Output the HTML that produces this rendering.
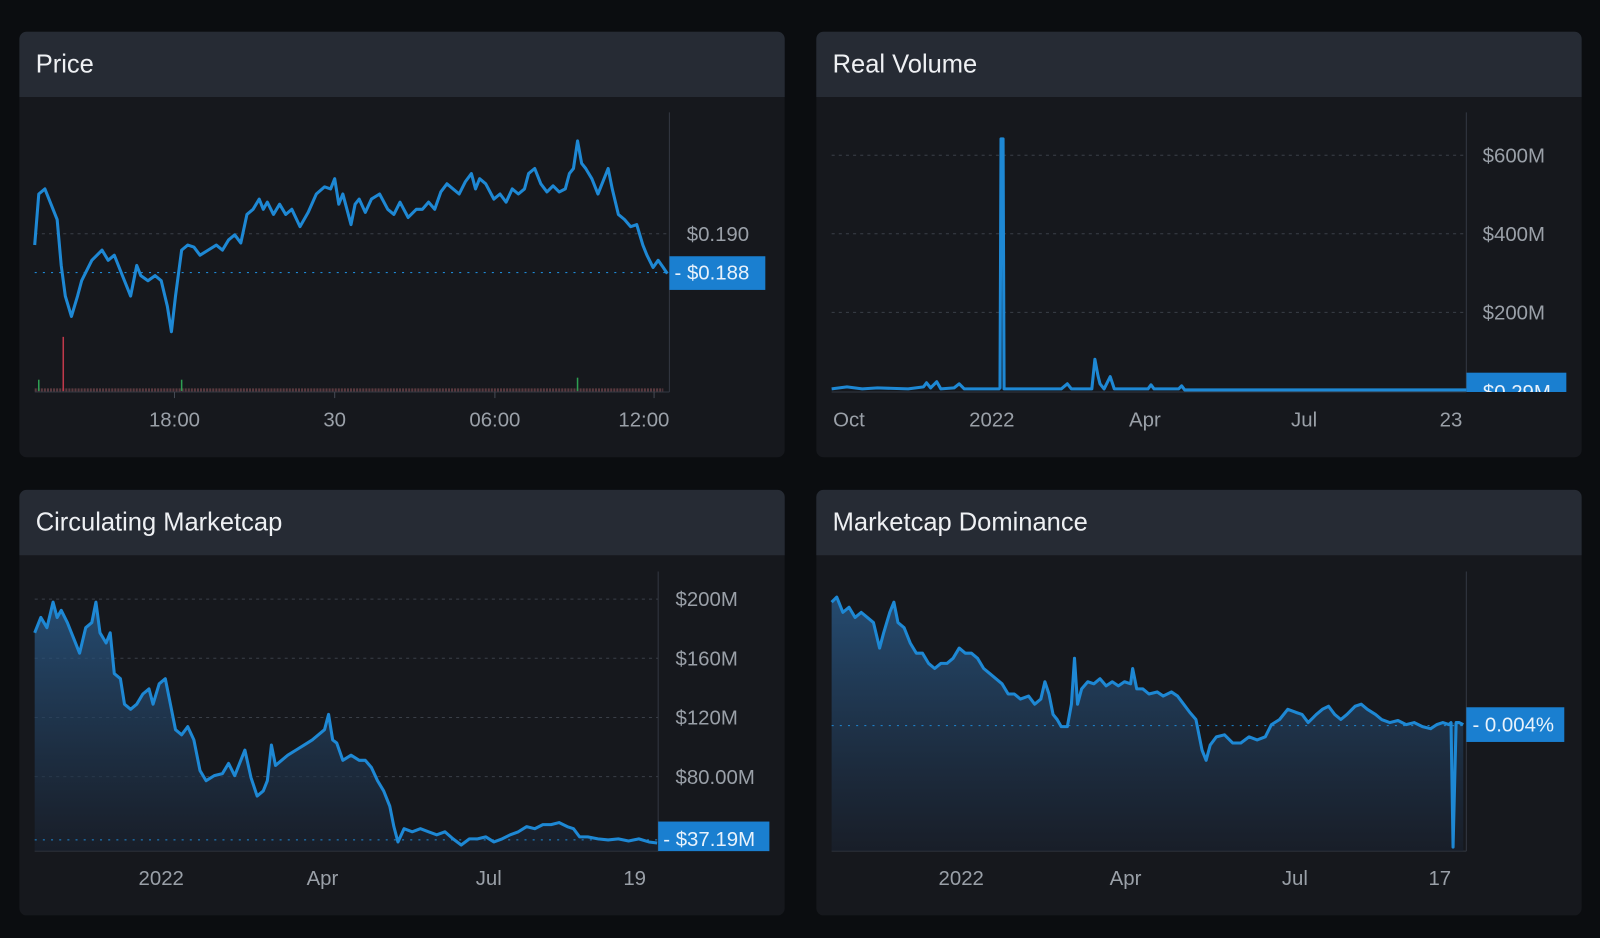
<!DOCTYPE html>
<html><head><meta charset="utf-8"><style>
html,body{margin:0;padding:0;background:#0b0d10;width:1600px;height:938px;overflow:hidden;font-family:"Liberation Sans","DejaVu Sans",sans-serif}
svg{position:absolute;left:0;top:0}
</style></head><body>
<svg width="1600" height="938" viewBox="0 0 1568 919" xmlns="http://www.w3.org/2000/svg">
<defs>
<linearGradient id="g" x1="0" y1="0" x2="0" y2="1"><stop offset="0" stop-color="#2a5c8c" stop-opacity="0.75"/><stop offset="1" stop-color="#1a2230" stop-opacity="0.6"/></linearGradient>
</defs>
<g font-family="Liberation Sans, DejaVu Sans, sans-serif">
<rect x="19" y="31" width="750" height="417" rx="7" fill="#16181d"/>
<path d="M19 95V38a7 7 0 0 1 7-7h736a7 7 0 0 1 7 7v57z" fill="#262b34"/>
<rect x="800" y="31" width="750" height="417" rx="7" fill="#16181d"/>
<path d="M800 95V38a7 7 0 0 1 7-7h736a7 7 0 0 1 7 7v57z" fill="#262b34"/>
<rect x="19" y="480" width="750" height="417" rx="7" fill="#16181d"/>
<path d="M19 544V487a7 7 0 0 1 7-7h736a7 7 0 0 1 7 7v57z" fill="#262b34"/>
<rect x="800" y="480" width="750" height="417" rx="7" fill="#16181d"/>
<path d="M800 544V487a7 7 0 0 1 7-7h736a7 7 0 0 1 7 7v57z" fill="#262b34"/>
<g fill="#eef0f3" font-size="25">
<text x="35" y="71">Price</text><text x="816" y="71">Real Volume</text>
<text x="35" y="520">Circulating Marketcap</text><text x="816" y="520">Marketcap Dominance</text>
</g>

<!-- Price -->
<line x1="656" y1="110" x2="656" y2="384" stroke="#333842"/>
<line x1="34" y1="384" x2="656" y2="384" stroke="#333842"/>
<g stroke="#444a54"><line x1="171" y1="384" x2="171" y2="390"/><line x1="328" y1="384" x2="328" y2="390"/><line x1="485" y1="384" x2="485" y2="390"/><line x1="641" y1="384" x2="641" y2="390"/></g>
<line x1="34" y1="229" x2="656" y2="229" stroke="#3a3f48" stroke-dasharray="3,4"/>
<line x1="34" y1="267" x2="656" y2="267" stroke="#1e88d4" stroke-dasharray="2,6"/>
<line x1="34" y1="382" x2="650" y2="382" stroke="#5a3a40" stroke-width="3" stroke-dasharray="2,1"/>
<line x1="62" y1="330" x2="62" y2="383" stroke="#c0394a" stroke-width="1.5"/>
<line x1="38" y1="372" x2="38" y2="383" stroke="#2e9e52" stroke-width="1.5"/>
<line x1="178" y1="372" x2="178" y2="383" stroke="#2e9e52" stroke-width="1.5"/>
<line x1="566" y1="370" x2="566" y2="383" stroke="#2e9e52" stroke-width="1.5"/>
<polyline fill="none" stroke="#1e88d4" stroke-width="3" stroke-linejoin="round" points="34,240 38,190 44,185 50,200 56,215 60,260 64,290 70,310 76,290 80,275 90,255 100,245 106,255 112,250 120,270 128,290 134,260 138,270 145,275 152,270 158,275 164,300 168,325 172,290 178,245 184,240 190,242 196,250 204,245 212,240 218,245 224,235 230,230 236,238 242,210 248,205 254,195 258,205 262,198 268,210 274,200 280,210 286,205 294,222 302,208 310,190 318,183 324,185 328,175 332,200 336,190 340,205 344,220 348,200 352,195 358,208 364,195 372,190 380,205 386,210 392,198 400,213 408,205 414,205 420,198 426,205 432,188 438,180 444,185 450,190 456,178 462,170 466,185 470,175 476,180 484,195 490,190 496,198 502,185 508,190 514,185 518,170 524,165 530,180 536,188 542,182 548,188 554,185 558,170 562,165 566,138 570,160 574,165 580,175 586,190 592,175 596,165 600,185 606,210 612,215 618,222 624,220 630,240 634,250 640,262 645,255 650,262 654,268"/>
<g fill="#9aa0a8" font-size="20">
<text x="673" y="236">$0.190</text>
<text x="171" y="418" text-anchor="middle">18:00</text><text x="328" y="418" text-anchor="middle">30</text>
<text x="485" y="418" text-anchor="middle">06:00</text><text x="631" y="418" text-anchor="middle">12:00</text>
</g>
<rect x="656" y="251" width="94" height="33" fill="#1a7fd0"/>
<text x="661" y="274" fill="#e8f2fb" font-size="20">- $0.188</text>

<!-- Real Volume -->
<line x1="1437" y1="110" x2="1437" y2="384" stroke="#333842"/>
<line x1="815" y1="384" x2="1437" y2="384" stroke="#333842"/>
<g stroke="#3a3f48" stroke-dasharray="3,4"><line x1="815" y1="152" x2="1437" y2="152"/><line x1="815" y1="229" x2="1437" y2="229"/><line x1="815" y1="306" x2="1437" y2="306"/></g>
<polyline fill="none" stroke="#1e88d4" stroke-width="3" stroke-linejoin="round" points="815,381 830,379 845,381 860,380 890,381 905,379 908,375 912,380 918,374 922,381 935,380 940,376 945,381 979,381 980,380 981,136 983,136 984,381 1040,381 1046,376 1050,381 1070,381 1073,352 1076,368 1078,376 1082,381 1088,369 1092,381 1125,381 1128,377 1131,381 1155,381 1158,378 1161,382 1437,382"/>
<g fill="#9aa0a8" font-size="20">
<text x="1453" y="159">$600M</text><text x="1453" y="236">$400M</text><text x="1453" y="313">$200M</text>
<text x="832" y="418" text-anchor="middle">Oct</text><text x="972" y="418" text-anchor="middle">2022</text>
<text x="1122" y="418" text-anchor="middle">Apr</text><text x="1278" y="418" text-anchor="middle">Jul</text><text x="1422" y="418" text-anchor="middle">23</text>
</g>
<svg x="1437" y="365" width="100" height="19"><rect width="98" height="40" fill="#1a7fd0"/><text x="4" y="26" fill="#e8f2fb" font-size="20">- $0.29M</text></svg>

<!-- Circulating Marketcap -->
<line x1="645" y1="560" x2="645" y2="834" stroke="#333842"/>
<line x1="34" y1="834" x2="645" y2="834" stroke="#333842"/>
<g stroke="#3a3f48" stroke-dasharray="3,4"><line x1="34" y1="587" x2="645" y2="587"/><line x1="34" y1="645" x2="645" y2="645"/><line x1="34" y1="703" x2="645" y2="703"/><line x1="34" y1="761" x2="645" y2="761"/></g>
<polygon fill="url(#g)" points="34,834 34,620 40,605 46,615 52,590 56,605 60,598 66,610 72,625 78,640 84,615 90,610 94,590 98,620 104,630 108,620 112,660 118,665 122,690 128,695 134,690 140,680 146,675 150,690 156,670 162,665 166,685 172,715 178,720 184,712 190,725 196,755 202,765 210,760 218,758 224,748 230,760 236,745 240,735 246,762 252,780 258,775 262,765 266,730 270,750 276,745 282,740 290,735 298,730 306,725 312,720 318,715 322,700 326,725 330,728 336,745 344,740 352,745 358,745 364,752 370,765 376,775 382,790 386,810 390,825 396,812 404,815 412,812 420,815 428,818 436,815 444,822 452,828 460,822 468,822 476,820 484,825 492,822 500,818 508,815 516,810 524,812 532,808 540,808 548,806 556,810 562,812 568,820 576,820 586,822 596,823 606,822 616,824 626,822 636,825 644,826 644,834"/>
<line x1="34" y1="823" x2="645" y2="823" stroke="#1e88d4" stroke-dasharray="2,6"/>
<polyline fill="none" stroke="#1e88d4" stroke-width="3" stroke-linejoin="round" points="34,620 40,605 46,615 52,590 56,605 60,598 66,610 72,625 78,640 84,615 90,610 94,590 98,620 104,630 108,620 112,660 118,665 122,690 128,695 134,690 140,680 146,675 150,690 156,670 162,665 166,685 172,715 178,720 184,712 190,725 196,755 202,765 210,760 218,758 224,748 230,760 236,745 240,735 246,762 252,780 258,775 262,765 266,730 270,750 276,745 282,740 290,735 298,730 306,725 312,720 318,715 322,700 326,725 330,728 336,745 344,740 352,745 358,745 364,752 370,765 376,775 382,790 386,810 390,825 396,812 404,815 412,812 420,815 428,818 436,815 444,822 452,828 460,822 468,822 476,820 484,825 492,822 500,818 508,815 516,810 524,812 532,808 540,808 548,806 556,810 562,812 568,820 576,820 586,822 596,823 606,822 616,824 626,822 636,825 644,826"/>
<g fill="#9aa0a8" font-size="20">
<text x="662" y="594">$200M</text><text x="662" y="652">$160M</text><text x="662" y="710">$120M</text><text x="662" y="768">$80.00M</text>
<text x="158" y="867" text-anchor="middle">2022</text><text x="316" y="867" text-anchor="middle">Apr</text>
<text x="479" y="867" text-anchor="middle">Jul</text><text x="622" y="867" text-anchor="middle">19</text>
</g>
<rect x="645" y="805" width="109" height="29" fill="#1a7fd0"/>
<text x="650" y="829" fill="#e8f2fb" font-size="20">- $37.19M</text>

<!-- Dominance -->
<line x1="1437" y1="560" x2="1437" y2="834" stroke="#333842"/>
<line x1="815" y1="834" x2="1437" y2="834" stroke="#333842"/>
<polygon fill="url(#g)" points="815,834 815,590 820,585 826,600 832,595 838,605 844,600 850,605 856,610 862,635 866,620 872,600 876,590 880,610 886,615 892,630 898,640 904,640 910,650 916,655 922,650 928,650 934,645 940,635 946,640 952,640 958,645 964,655 970,660 976,665 982,670 988,680 994,680 1000,685 1008,682 1014,690 1020,685 1024,668 1028,680 1032,700 1036,705 1040,712 1046,712 1050,690 1053,645 1056,690 1060,675 1066,668 1072,670 1078,665 1084,672 1090,668 1096,672 1102,668 1108,670 1110,655 1114,675 1120,675 1126,680 1134,678 1140,682 1148,678 1154,682 1160,690 1166,698 1172,705 1178,735 1182,745 1186,730 1192,722 1200,720 1208,728 1216,728 1224,722 1232,725 1240,722 1246,710 1254,705 1262,695 1270,698 1276,700 1282,708 1290,700 1296,695 1302,692 1308,700 1314,705 1320,700 1328,692 1334,690 1340,695 1348,700 1354,705 1362,708 1370,706 1378,710 1386,708 1394,712 1402,714 1408,710 1414,708 1420,710 1422,708 1434,710 1434,834"/>
<line x1="815" y1="711" x2="1437" y2="711" stroke="#1e88d4" stroke-dasharray="2,6"/>
<polyline fill="none" stroke="#1e88d4" stroke-width="3" stroke-linejoin="round" points="815,590 820,585 826,600 832,595 838,605 844,600 850,605 856,610 862,635 866,620 872,600 876,590 880,610 886,615 892,630 898,640 904,640 910,650 916,655 922,650 928,650 934,645 940,635 946,640 952,640 958,645 964,655 970,660 976,665 982,670 988,680 994,680 1000,685 1008,682 1014,690 1020,685 1024,668 1028,680 1032,700 1036,705 1040,712 1046,712 1050,690 1053,645 1056,690 1060,675 1066,668 1072,670 1078,665 1084,672 1090,668 1096,672 1102,668 1108,670 1110,655 1114,675 1120,675 1126,680 1134,678 1140,682 1148,678 1154,682 1160,690 1166,698 1172,705 1178,735 1182,745 1186,730 1192,722 1200,720 1208,728 1216,728 1224,722 1232,725 1240,722 1246,710 1254,705 1262,695 1270,698 1276,700 1282,708 1290,700 1296,695 1302,692 1308,700 1314,705 1320,700 1328,692 1334,690 1340,695 1348,700 1354,705 1362,708 1370,706 1378,710 1386,708 1394,712 1402,714 1408,710 1414,708 1420,710 1422,708 1424,830 1427,708 1430,708 1434,710"/>
<g fill="#9aa0a8" font-size="20">
<text x="942" y="867" text-anchor="middle">2022</text><text x="1103" y="867" text-anchor="middle">Apr</text>
<text x="1269" y="867" text-anchor="middle">Jul</text><text x="1411" y="867" text-anchor="middle">17</text>
</g>
<rect x="1437" y="693" width="96" height="34" fill="#1a7fd0"/>
<text x="1443" y="717" fill="#e8f2fb" font-size="20">- 0.004%</text>
</g>
</svg>
</body></html>
